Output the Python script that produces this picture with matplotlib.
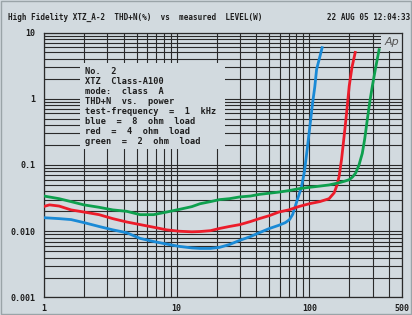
import matplotlib
matplotlib.use("Agg")
import matplotlib.pyplot as plt
from matplotlib.patches import Rectangle
from matplotlib.ticker import LogLocator, NullFormatter, FixedLocator, FixedFormatter

bg = '#d2dadf'
ink = '#1e1e1e'

# 8 ohm load
blue_x = [1, 1.3, 1.6, 2, 2.6, 3.3, 4.2, 5.3, 6.7, 8.4, 10.5, 13, 15, 18, 21, 25, 30, 36, 42,
          50, 59, 66, 71, 75, 79, 83, 87, 92, 97, 102, 106, 110, 113.5, 119, 125]
blue_y = [0.016, 0.0155, 0.015, 0.0135, 0.0118, 0.0105, 0.0095, 0.0078, 0.007, 0.0064, 0.0059,
          0.0056, 0.0055, 0.0055, 0.0057, 0.0063, 0.0073, 0.0083, 0.0095, 0.011, 0.0123, 0.0135,
          0.015, 0.018, 0.025, 0.034, 0.045, 0.08, 0.19, 0.45, 0.87, 1.5, 2.76, 4.0, 5.9]

# 4 ohm load
red_x = [1, 1.1, 1.3, 1.6, 2, 2.6, 3.3, 4.2, 5.3, 6.7, 8.4, 10.5, 13, 15, 18, 21, 25, 30, 36, 42,
         50, 59, 70, 84, 100, 120, 141, 154, 162, 168, 175, 183, 191, 200, 210, 222]
red_y = [0.0237, 0.025, 0.024, 0.021, 0.0195, 0.0178, 0.0155, 0.0138, 0.0126, 0.0115, 0.0105,
         0.0100, 0.0098, 0.0099, 0.0102, 0.011, 0.0118, 0.0126, 0.014, 0.0155, 0.0172, 0.0195,
         0.021, 0.0237, 0.026, 0.028, 0.031, 0.038, 0.05, 0.068, 0.12, 0.27, 0.6, 1.55, 3.0, 5.0]

# 2 ohm load
green_x = [1, 1.3, 1.6, 2, 2.6, 3.3, 4.2, 5.3, 6.7, 8.4, 10.5, 13, 15, 18, 21, 25, 30, 36, 42,
           50, 59, 70, 84, 100, 120, 141, 168, 185, 200, 212, 224, 237, 251, 262, 274, 286,
           299, 317, 336]
green_y = [0.034, 0.031, 0.028, 0.025, 0.023, 0.021, 0.020, 0.0178, 0.0178, 0.0195, 0.0214,
           0.0235, 0.026, 0.028, 0.030, 0.031, 0.033, 0.034, 0.036, 0.0375, 0.039, 0.041, 0.044,
           0.046, 0.048, 0.050, 0.054, 0.057, 0.060, 0.066, 0.076, 0.10, 0.15, 0.25, 0.49, 0.9,
           1.56, 3.0, 5.5]

x_ticks = [1, 10, 100, 500]
x_labels = ['1', '10', '100', '500']
y_ticks = [0.001, 0.01, 0.1, 1, 10]
y_labels = ['0.001', '0.010', '0.1', '1', '10']

info_lines = ['No.  2', 'XTZ  Class-A100', 'mode:  class  A', 'THD+N  vs.  power',
              'test-frequency  =  1  kHz', 'blue  =  8  ohm  load', 'red  =  4  ohm  load',
              'green  =  2  ohm  load']

title_left = 'High Fidelity XTZ_A-2  THD+N(%)  vs  measured  LEVEL(W)'
title_right = '22 AUG 05 12:04:33'

fig = plt.figure(figsize=(4.12, 3.15), dpi=100, facecolor=bg)
ax = fig.add_axes([0.1068, 0.0556, 0.8689, 0.8412], facecolor=bg)

ax.set_xscale('log')
ax.set_yscale('log')
ax.set_xlim(1, 500)
ax.set_ylim(0.001, 10)

# grid: every decade and sub-decade line
ax.xaxis.set_minor_locator(LogLocator(base=10, subs=range(2, 10), numticks=20))
ax.yaxis.set_minor_locator(LogLocator(base=10, subs=range(2, 10), numticks=20))
ax.xaxis.set_minor_formatter(NullFormatter())
ax.yaxis.set_minor_formatter(NullFormatter())
ax.grid(True, which='both', color='#2a2a2a', lw=0.8, zorder=1)

ax.xaxis.set_major_locator(FixedLocator(x_ticks))
ax.xaxis.set_major_formatter(FixedFormatter(x_labels))
ax.yaxis.set_major_locator(FixedLocator(y_ticks))
ax.yaxis.set_major_formatter(FixedFormatter(y_labels))
ax.tick_params(which='both', length=0, labelsize=6, colors=ink)
ax.tick_params(axis='x', pad=5)
ax.tick_params(axis='y', pad=6)
for lab in ax.get_xticklabels() + ax.get_yticklabels():
    lab.set_family('DejaVu Sans Mono')
    lab.set_fontweight('bold')
for sp in ax.spines.values():
    sp.set_color('#2a2a2a')
    sp.set_linewidth(0.9)

ax.plot(blue_x, blue_y, color='#1a8ad6', lw=2.0, zorder=4)
ax.plot(red_x, red_y, color='#ec1c2a', lw=2.0, zorder=4)
ax.plot(green_x, green_y, color='#0ea04e', lw=2.0, zorder=4)

# info box over the grid
ax.add_patch(Rectangle((0.1006, 0.560), 0.405, 0.325, transform=ax.transAxes,
                       facecolor=bg, edgecolor='none', zorder=2))
for i, line in enumerate(info_lines):
    ax.text(0.115, 0.852 - i * 0.0377, line, transform=ax.transAxes, fontsize=6.2,
            family='DejaVu Sans Mono', fontweight='bold', color=ink, va='center', zorder=3)

# Ap logo
ax.add_patch(Rectangle((0.941, 0.932), 0.059, 0.068, transform=ax.transAxes,
                       facecolor=bg, edgecolor='none', zorder=2))
ax.text(0.972, 0.966, 'Ap', transform=ax.transAxes, fontsize=8, style='italic',
        color='#555555', ha='center', va='center', zorder=3)

fig.text(0.02, 0.945, title_left, fontsize=5.5, family='DejaVu Sans Mono',
         fontweight='bold', color=ink, va='center')
fig.text(0.995, 0.945, title_right, fontsize=5.5, family='DejaVu Sans Mono',
         fontweight='bold', color=ink, va='center', ha='right')

fig.add_artist(Rectangle((0.002, 0.003), 0.996, 0.994, transform=fig.transFigure,
                         facecolor='none', edgecolor='#9aa4a8', lw=1.0))

fig.savefig('out.png', dpi=100, facecolor=bg)
